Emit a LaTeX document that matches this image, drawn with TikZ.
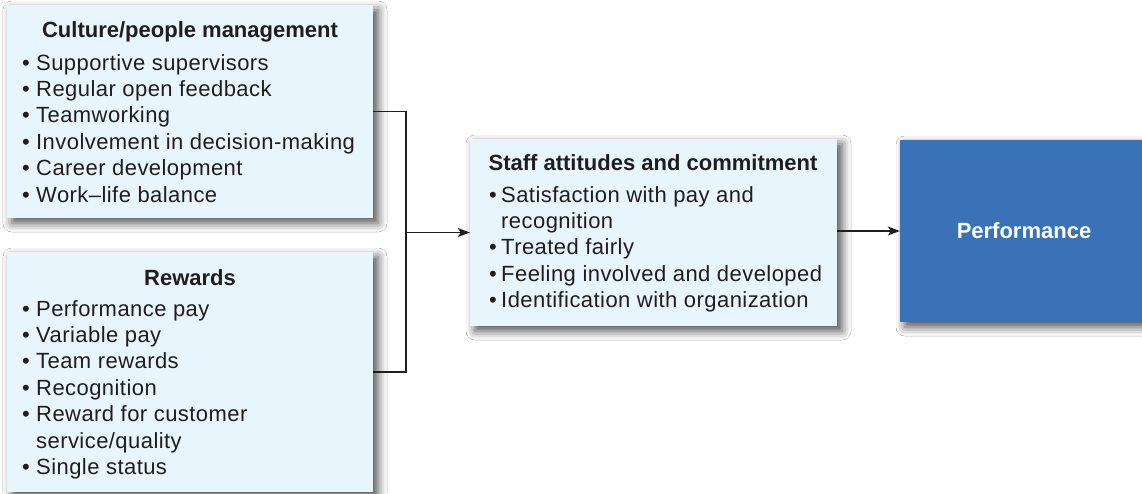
\documentclass[tikz,border=0pt]{standalone}
\usepackage{fontspec}
\setmainfont{Liberation Sans}
\newfontfamily\listfont{Liberation Sans}[LetterSpace=2]
\usetikzlibrary{arrows.meta,shadows.blur}
\definecolor{boxfill}{HTML}{E9F5FD}
\definecolor{perfblue}{HTML}{3A72B7}
\definecolor{ink}{HTML}{1E1E1E}
\newlength{\bulw}
\setlength{\bulw}{14pt}
\newcommand{\itm}[1]{\hbox{\makebox[\bulw][l]{•}#1}}
\newcommand{\cnt}[1]{\hbox{\hspace*{\bulw}#1}}
\begin{document}
\begin{tikzpicture}[x=1pt,y=-1pt,
  panel/.style={fill=boxfill,draw=none,inner sep=0pt,
    blur shadow={shadow xshift=5pt,shadow yshift=-5pt,shadow blur radius=9pt,shadow opacity=70}},
  ttl/.style={anchor=base,inner sep=0pt,text=ink,font=\fontsize{22}{26.4}\selectfont\bfseries},
  lst/.style={anchor=base west,inner sep=0pt,text=ink,font=\fontsize{22}{26.4}\selectfont\listfont},
  conn/.style={draw=ink,line width=1.1pt},
  arr/.style={conn,-{Stealth[length=12pt,width=9pt,inset=3pt]}}]
\fill[white] (0,0) rectangle (1142,493);
\useasboundingbox (0,0) rectangle (1142,493);

% boxes
\node[panel,minimum width=366pt,minimum height=213pt] (b1) at (190,111.5) {};
\node[panel,minimum width=366pt,minimum height=240pt] (b2) at (190,372) {};
\node[panel,minimum width=367pt,minimum height=187pt] (b3) at (653.5,232.5) {};
\node[panel,fill=perfblue,minimum width=248pt,minimum height=182pt,
      text=white,font=\fontsize{22}{26.4}\selectfont\bfseries] (b4) at (1024,231) {Performance};

% box 1 text
\node[ttl] (t1) at (190,37) {Culture/people management};
\node[lst] (l1) at (22,70) {\vtop{%
  \itm{Supportive supervisors}
  \itm{Regular open feedback}
  \itm{Teamworking}
  \itm{Involvement in decision-making}
  \itm{Career development}
  \itm{Work–life balance}}};

% box 2 text
\node[ttl] (t2) at (190,285) {Rewards};
\node[lst] (l2) at (22,316) {\vtop{%
  \itm{Performance pay}
  \itm{Variable pay}
  \itm{Team rewards}
  \itm{Recognition}
  \itm{Reward for customer}
  \cnt{service/quality}
  \itm{Single status}}};

% box 3 text
\node[ttl] (t3) at (653,170) {Staff attitudes and commitment};
\node[lst] (l3) at (489,202) {\setlength{\bulw}{12pt}\vtop{%
  \itm{Satisfaction with pay and}
  \cnt{recognition}
  \itm{Treated fairly}
  \itm{Feeling involved and developed}
  \itm{Identification with organization}}};

% connectors
\coordinate (j) at (406,232.5);
\draw[conn] (b1.east) -| (j) |- (b2.east);
\draw[arr] (j) -- (b3.west);
\draw[arr] (b3.east |- b4.west) -- (b4.west);
\end{tikzpicture}
\end{document}
